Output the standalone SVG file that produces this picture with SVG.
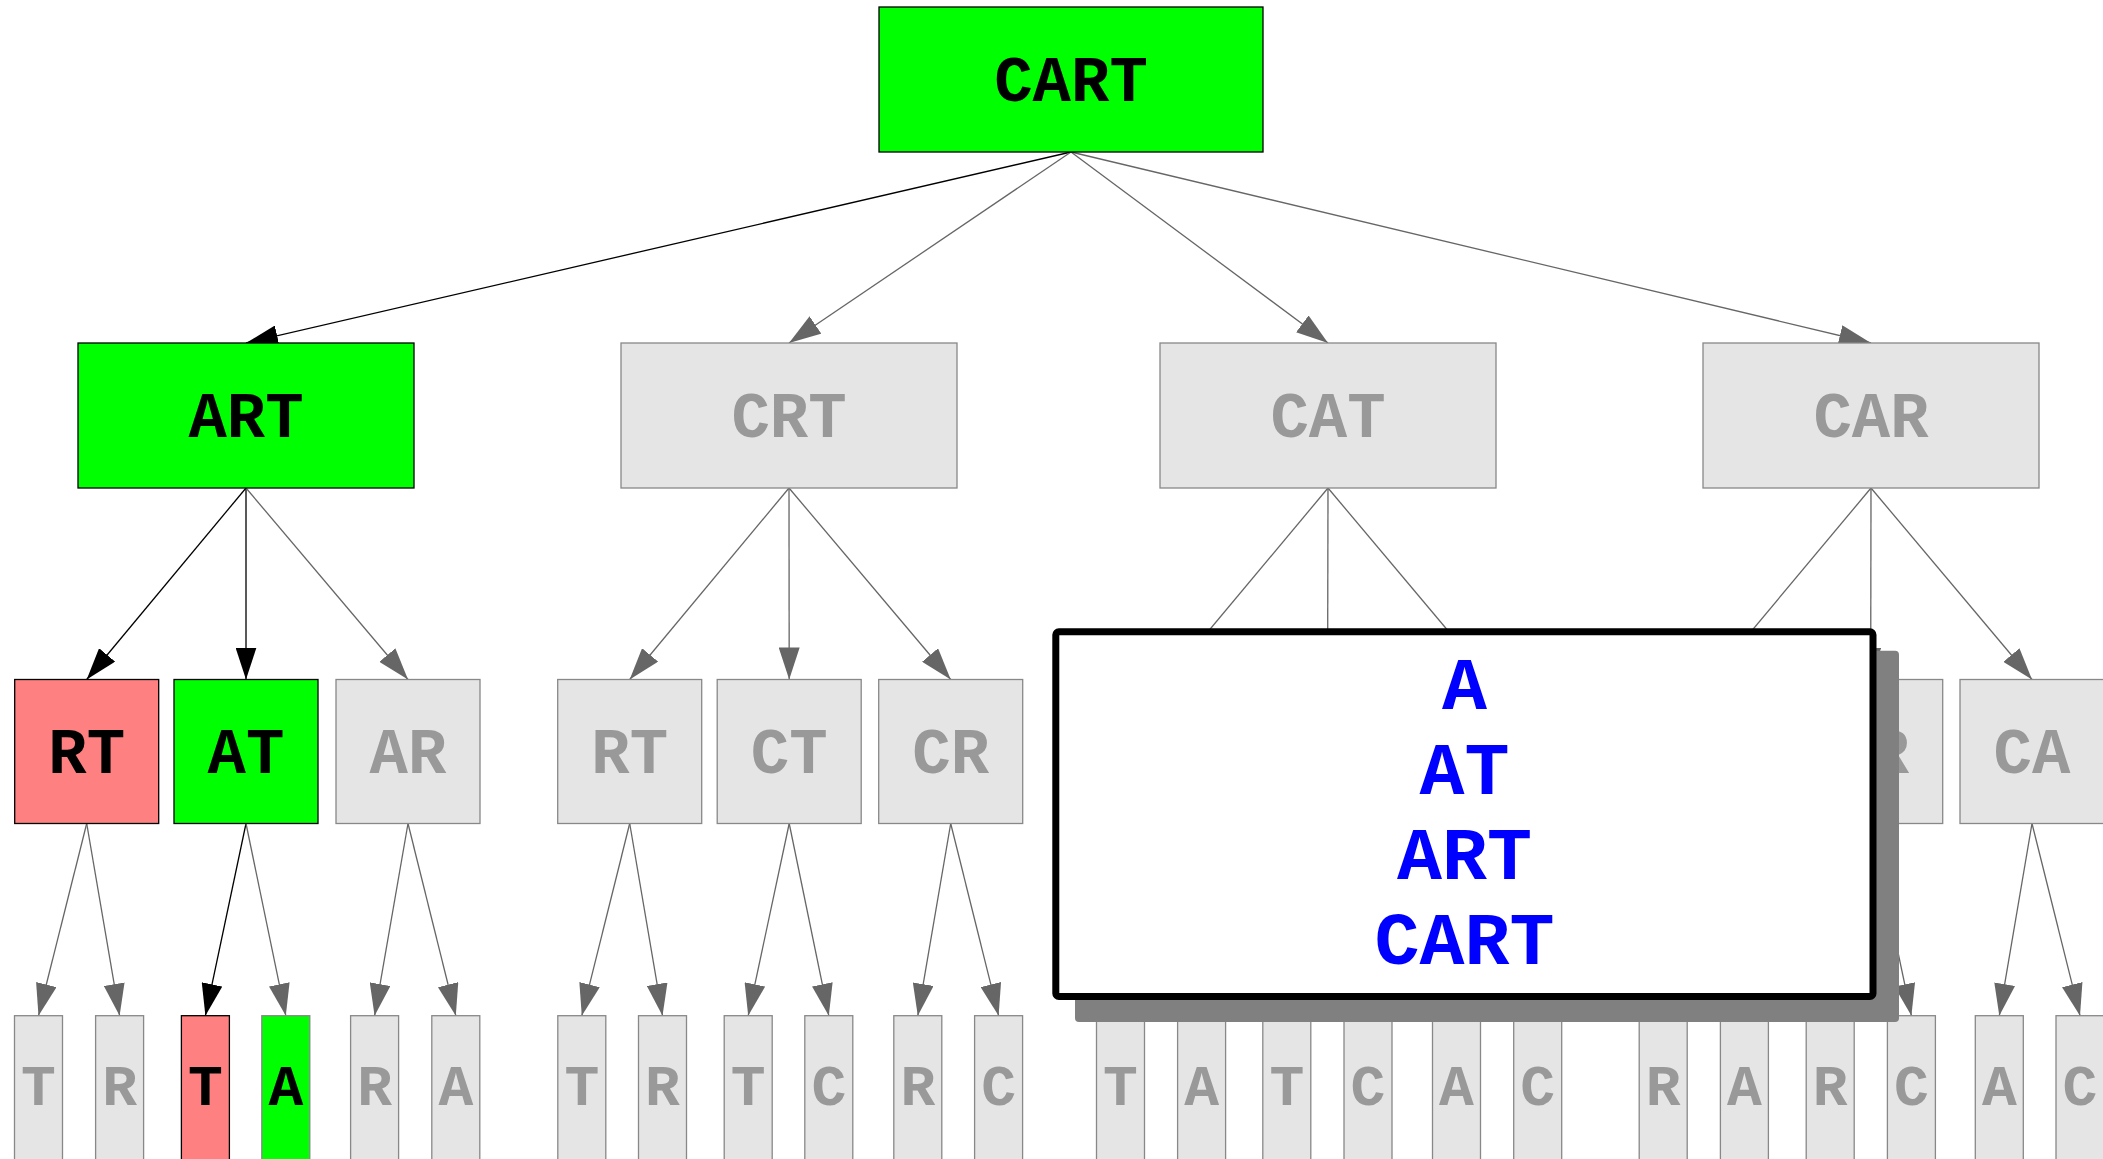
<svg xmlns="http://www.w3.org/2000/svg" width="2103" height="1159" viewBox="0 0 2103 1159">
<style>
text{font-family:"Liberation Mono","Courier New",monospace;font-weight:bold;text-anchor:middle}
.n rect{stroke-width:1.3}
.gy rect{fill:#e5e5e5;stroke:#888}
.gy text{fill:#999}
.gn rect{fill:#00ff00;stroke:#000}
.gn2 rect{fill:#00ff00;stroke:#888}
.rd rect{fill:#ff8080;stroke:#000}
.gn text,.gn2 text,.rd text{fill:#000}
.big text{font-size:64px}
.sm text{font-size:58px}
#edges line{stroke-width:1.3;fill:none}
#edges .e{stroke:#666;marker-end:url(#ag)}
#edges .k{stroke:#000;marker-end:url(#ak)}
.res text{font-size:75px;fill:#0000ff}
</style>
<defs>
<marker id="ag" markerUnits="userSpaceOnUse" viewBox="0 0 32 21" refX="32" refY="10.5" markerWidth="32" markerHeight="21" orient="auto"><path d="M0,0 L32,10.5 L0,21 z" fill="#666"/></marker>
<marker id="ak" markerUnits="userSpaceOnUse" viewBox="0 0 32 21" refX="32" refY="10.5" markerWidth="32" markerHeight="21" orient="auto"><path d="M0,0 L32,10.5 L0,21 z" fill="#000"/></marker>
</defs>
<rect width="2103" height="1159" fill="#fff"/>
<g id="edges">
<line class="k" x1="1071" y1="152" x2="246" y2="343"/>
<line class="e" x1="1071" y1="152" x2="789" y2="343"/>
<line class="e" x1="1071" y1="152" x2="1328" y2="343"/>
<line class="e" x1="1071" y1="152" x2="1871" y2="343"/>
<line class="k" x1="246" y1="488" x2="86.7" y2="679.5"/>
<line class="k" x1="246" y1="488" x2="246" y2="679.5"/>
<line class="e" x1="246" y1="488" x2="408" y2="679.5"/>
<line class="e" x1="789" y1="488" x2="629.7" y2="679.5"/>
<line class="e" x1="789" y1="488" x2="789.2" y2="679.5"/>
<line class="e" x1="789" y1="488" x2="950.7" y2="679.5"/>
<line class="e" x1="1328" y1="488" x2="1168" y2="679.5"/>
<line class="e" x1="1328" y1="488" x2="1327.6" y2="679.5"/>
<line class="e" x1="1328" y1="488" x2="1489" y2="679.5"/>
<line class="e" x1="1871" y1="488" x2="1711" y2="679.5"/>
<line class="e" x1="1871" y1="488" x2="1870.7" y2="679.5"/>
<line class="e" x1="1871" y1="488" x2="2032" y2="679.5"/>
<line class="e" x1="86.7" y1="823.5" x2="38.5" y2="1015.7"/>
<line class="e" x1="86.7" y1="823.5" x2="119.6" y2="1015.7"/>
<line class="k" x1="246" y1="823.5" x2="205.4" y2="1015.7"/>
<line class="e" x1="246" y1="823.5" x2="285.8" y2="1015.7"/>
<line class="e" x1="408" y1="823.5" x2="374.6" y2="1015.7"/>
<line class="e" x1="408" y1="823.5" x2="455.8" y2="1015.7"/>
<line class="e" x1="629.7" y1="823.5" x2="581.8" y2="1015.7"/>
<line class="e" x1="629.7" y1="823.5" x2="662.5" y2="1015.7"/>
<line class="e" x1="789.2" y1="823.5" x2="748.2" y2="1015.7"/>
<line class="e" x1="789.2" y1="823.5" x2="828.8" y2="1015.7"/>
<line class="e" x1="950.7" y1="823.5" x2="917.8" y2="1015.7"/>
<line class="e" x1="950.7" y1="823.5" x2="998.6" y2="1015.7"/>
<line class="e" x1="1168" y1="823.5" x2="1120.5" y2="1015.7"/>
<line class="e" x1="1168" y1="823.5" x2="1201.6" y2="1015.7"/>
<line class="e" x1="1327.6" y1="823.5" x2="1286.8" y2="1015.7"/>
<line class="e" x1="1327.6" y1="823.5" x2="1368" y2="1015.7"/>
<line class="e" x1="1489" y1="823.5" x2="1456.5" y2="1015.7"/>
<line class="e" x1="1489" y1="823.5" x2="1537.7" y2="1015.7"/>
<line class="e" x1="1711" y1="823.5" x2="1663.2" y2="1015.7"/>
<line class="e" x1="1711" y1="823.5" x2="1744.4" y2="1015.7"/>
<line class="e" x1="1870.7" y1="823.5" x2="1830.2" y2="1015.7"/>
<line class="e" x1="1870.7" y1="823.5" x2="1911.4" y2="1015.7"/>
<line class="e" x1="2032" y1="823.5" x2="1999.3" y2="1015.7"/>
<line class="e" x1="2032" y1="823.5" x2="2080" y2="1015.7"/>
</g>
<g id="n0" class="n gn big"><rect x="879" y="7" width="384" height="145"/><text x="1071" y="100.5">CART</text></g>
<g id="n1a" class="n gn big"><rect x="78" y="343" width="336" height="145"/><text x="246" y="436.5">ART</text></g>
<g id="n1b" class="n gy big"><rect x="621" y="343" width="336" height="145"/><text x="789" y="436.5">CRT</text></g>
<g id="n1c" class="n gy big"><rect x="1160" y="343" width="336" height="145"/><text x="1328" y="436.5">CAT</text></g>
<g id="n1d" class="n gy big"><rect x="1703" y="343" width="336" height="145"/><text x="1871" y="436.5">CAR</text></g>
<g id="n2a" class="n rd big"><rect x="14.7" y="679.5" width="144" height="144"/><text x="86.7" y="772.5">RT</text></g>
<g id="n2b" class="n gn big"><rect x="174" y="679.5" width="144" height="144"/><text x="246" y="772.5">AT</text></g>
<g id="n2c" class="n gy big"><rect x="336" y="679.5" width="144" height="144"/><text x="408" y="772.5">AR</text></g>
<g id="n2d" class="n gy big"><rect x="557.7" y="679.5" width="144" height="144"/><text x="629.7" y="772.5">RT</text></g>
<g id="n2e" class="n gy big"><rect x="717.2" y="679.5" width="144" height="144"/><text x="789.2" y="772.5">CT</text></g>
<g id="n2f" class="n gy big"><rect x="878.7" y="679.5" width="144" height="144"/><text x="950.7" y="772.5">CR</text></g>
<g id="n2g" class="n gy big"><rect x="1096" y="679.5" width="144" height="144"/></g>
<g id="n2h" class="n gy big"><rect x="1255.6" y="679.5" width="144" height="144"/></g>
<g id="n2i" class="n gy big"><rect x="1417" y="679.5" width="144" height="144"/></g>
<g id="n2j" class="n gy big"><rect x="1639" y="679.5" width="144" height="144"/></g>
<g id="n2k" class="n gy big"><rect x="1798.7" y="679.5" width="144" height="144"/><text x="1870.7" y="772.5">CR</text></g>
<g id="n2l" class="n gy big"><rect x="1960" y="679.5" width="144" height="144"/><text x="2032" y="772.5">CA</text></g>
<g id="n3a" class="n gy sm"><rect x="14.5" y="1015.7" width="48" height="144"/><text x="38.5" y="1105">T</text></g>
<g id="n3b" class="n gy sm"><rect x="95.6" y="1015.7" width="48" height="144"/><text x="119.6" y="1105">R</text></g>
<g id="n3c" class="n rd sm"><rect x="181.4" y="1015.7" width="48" height="144"/><text x="205.4" y="1105">T</text></g>
<g id="n3d" class="n gn2 sm"><rect x="261.8" y="1015.7" width="48" height="144"/><text x="285.8" y="1105">A</text></g>
<g id="n3e" class="n gy sm"><rect x="350.6" y="1015.7" width="48" height="144"/><text x="374.6" y="1105">R</text></g>
<g id="n3f" class="n gy sm"><rect x="431.8" y="1015.7" width="48" height="144"/><text x="455.8" y="1105">A</text></g>
<g id="n3g" class="n gy sm"><rect x="557.8" y="1015.7" width="48" height="144"/><text x="581.8" y="1105">T</text></g>
<g id="n3h" class="n gy sm"><rect x="638.5" y="1015.7" width="48" height="144"/><text x="662.5" y="1105">R</text></g>
<g id="n3i" class="n gy sm"><rect x="724.2" y="1015.7" width="48" height="144"/><text x="748.2" y="1105">T</text></g>
<g id="n3j" class="n gy sm"><rect x="804.8" y="1015.7" width="48" height="144"/><text x="828.8" y="1105">C</text></g>
<g id="n3k" class="n gy sm"><rect x="893.8" y="1015.7" width="48" height="144"/><text x="917.8" y="1105">R</text></g>
<g id="n3l" class="n gy sm"><rect x="974.6" y="1015.7" width="48" height="144"/><text x="998.6" y="1105">C</text></g>
<g id="n3m" class="n gy sm"><rect x="1096.5" y="1015.7" width="48" height="144"/><text x="1120.5" y="1105">T</text></g>
<g id="n3n" class="n gy sm"><rect x="1177.6" y="1015.7" width="48" height="144"/><text x="1201.6" y="1105">A</text></g>
<g id="n3o" class="n gy sm"><rect x="1262.8" y="1015.7" width="48" height="144"/><text x="1286.8" y="1105">T</text></g>
<g id="n3p" class="n gy sm"><rect x="1344" y="1015.7" width="48" height="144"/><text x="1368" y="1105">C</text></g>
<g id="n3q" class="n gy sm"><rect x="1432.5" y="1015.7" width="48" height="144"/><text x="1456.5" y="1105">A</text></g>
<g id="n3r" class="n gy sm"><rect x="1513.7" y="1015.7" width="48" height="144"/><text x="1537.7" y="1105">C</text></g>
<g id="n3s" class="n gy sm"><rect x="1639.2" y="1015.7" width="48" height="144"/><text x="1663.2" y="1105">R</text></g>
<g id="n3t" class="n gy sm"><rect x="1720.4" y="1015.7" width="48" height="144"/><text x="1744.4" y="1105">A</text></g>
<g id="n3u" class="n gy sm"><rect x="1806.2" y="1015.7" width="48" height="144"/><text x="1830.2" y="1105">R</text></g>
<g id="n3v" class="n gy sm"><rect x="1887.4" y="1015.7" width="48" height="144"/><text x="1911.4" y="1105">C</text></g>
<g id="n3w" class="n gy sm"><rect x="1975.3" y="1015.7" width="48" height="144"/><text x="1999.3" y="1105">A</text></g>
<g id="n3x" class="n gy sm"><rect x="2056" y="1015.7" width="48" height="144"/><text x="2080" y="1105">C</text></g>
<g id="result" class="res">
<rect x="1075" y="650.7" width="824" height="371.3" rx="4" fill="#808080"/>
<rect x="1055.8" y="631.8" width="817.2" height="364.7" rx="3" fill="#fff" stroke="#000" stroke-width="7"/>
<text x="1464.5" y="709">A</text>
<text x="1464.5" y="794">AT</text>
<text x="1464.5" y="879">ART</text>
<text x="1464.5" y="964">CART</text>
</g>
</svg>
